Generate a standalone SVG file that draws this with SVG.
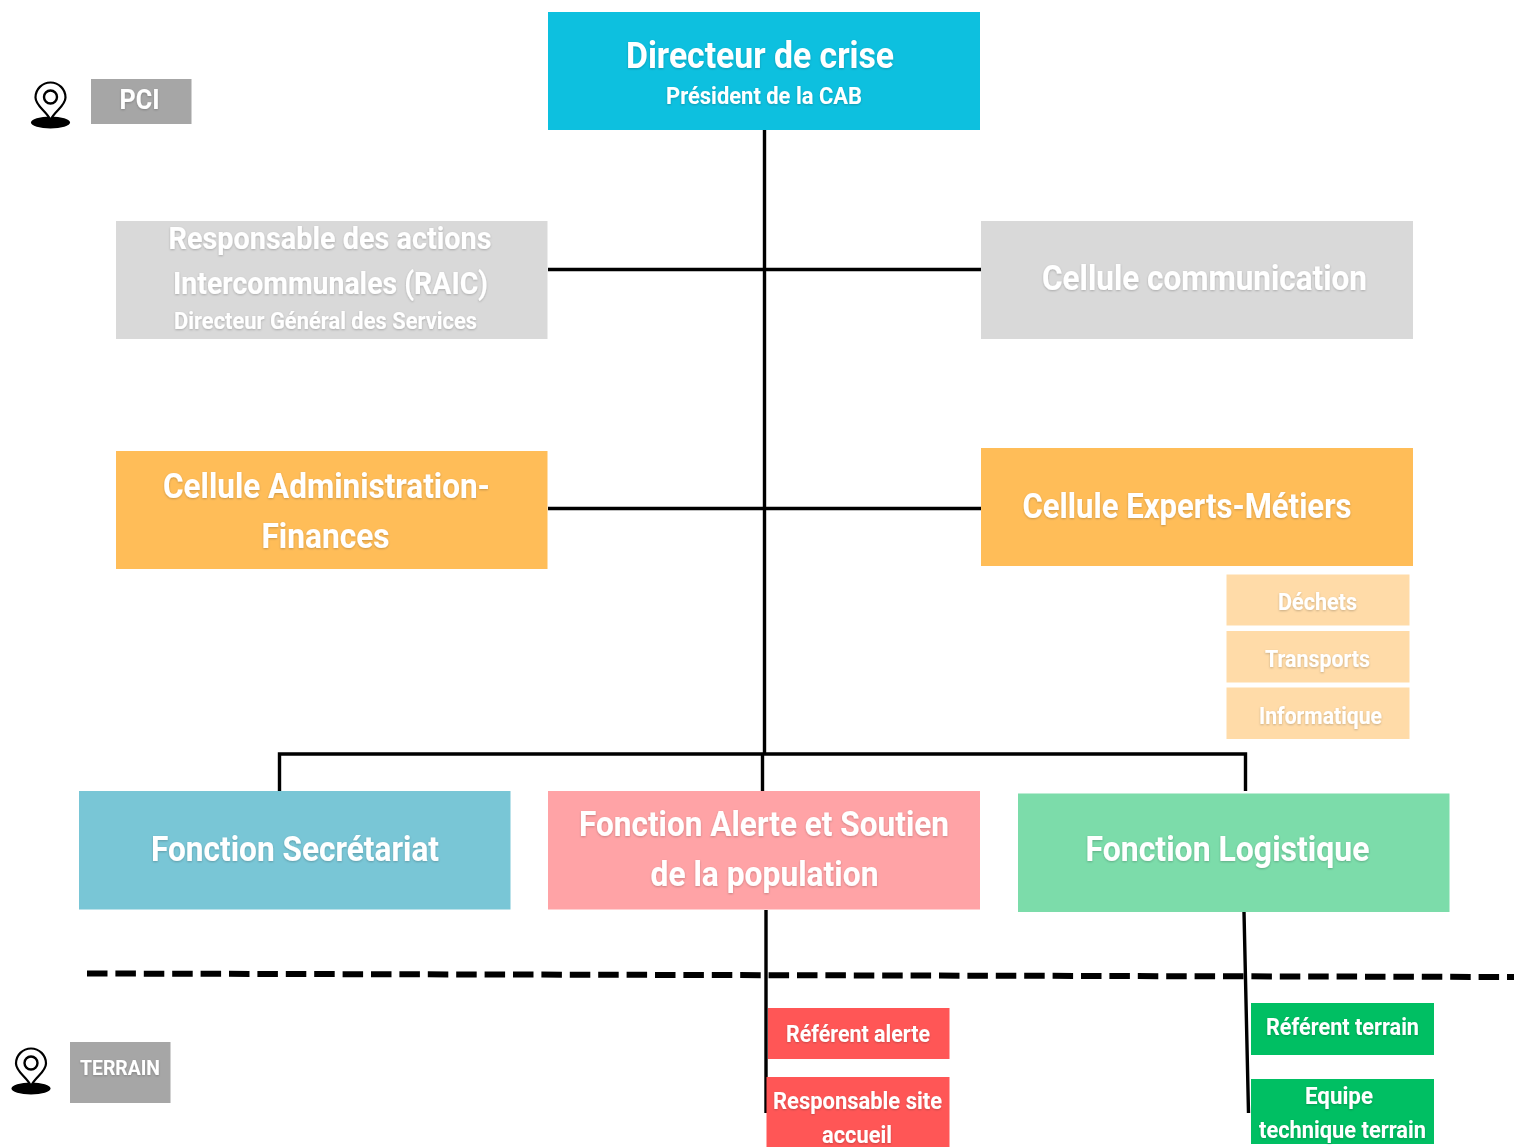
<svg xmlns="http://www.w3.org/2000/svg" width="1514" height="1147" viewBox="0 0 1514 1147">
<style>
text{font-family:Roboto,"Liberation Sans",sans-serif;font-weight:700;fill:#fff;filter:url(#ts)}
.c{fill:none;stroke:#000;stroke-width:3.4}
.t{fill:#0cc0df}.g{fill:#d9d9d9}.o{fill:#ffbd59}.p{fill:#ffdba8}.gr{fill:#a6a6a6}
.b{fill:#79c6d6}.k{fill:#ffa3a6}.m{fill:#7bdcaa}.r{fill:#ff5757}.e{fill:#00bf63}
</style>
<defs>
<filter id="ts" x="-5%" y="-20%" width="110%" height="140%"><feDropShadow dx="0" dy="1" stdDeviation="1" flood-color="#000" flood-opacity=".22"/></filter>
<filter id="soft" filterUnits="userSpaceOnUse" x="0" y="0" width="1514" height="1147"><feGaussianBlur stdDeviation=".55"/></filter>
<g id="pin">
<ellipse cx="0" cy="25.500" rx="19.500" ry="6" fill="#000"/>
<path d="M0 23C-4 14-15 9-15 0.500A15 15 0 0 1 15 0.500C15 9 4 14 0 23Z" fill="#fff" stroke="#000" stroke-width="2.200"/>
<circle cx="0" cy="0" r="6.500" fill="#fff" stroke="#000" stroke-width="2.400"/>
</g>
</defs>
<rect width="1514" height="1147" fill="#fff"/>
<g id="diagram" filter="url(#soft)">
<g id="connectors">
<path class="c" d="M764.500 130V754M548 269.500H981M548 508.500H981M279.500 791V754H1245.500V791M762.500 754V791"/>
<path class="c" d="M766 910V1113M1244 912L1248.500 1113"/>
<path d="M87 973.500L1514 977" fill="none" stroke="#000" stroke-width="6" stroke-dasharray="20.500 7.900"/>
</g>
<g id="pin-pci"><use href="#pin" x="50.500" y="97"/></g>
<g id="pin-terrain"><use href="#pin" x="31" y="1063"/></g>
<g id="pci"><rect class="gr" x="91" y="79" width="100.500" height="45"/><text x="119.500" y="109" font-size="27" textLength="40" lengthAdjust="spacingAndGlyphs">PCI</text></g>
<g id="terrain"><rect class="gr" x="70" y="1042" width="100.500" height="61"/><text x="80" y="1075" font-size="21" textLength="80" lengthAdjust="spacingAndGlyphs">TERRAIN</text></g>
<g id="directeur"><rect class="t" x="548" y="12" width="432" height="118"/>
<text x="626" y="68" font-size="36" textLength="268" lengthAdjust="spacingAndGlyphs">Directeur de crise</text>
<text x="666" y="104" font-size="24" textLength="196" lengthAdjust="spacingAndGlyphs">Président de la CAB</text></g>
<g id="raic"><rect class="g" x="116" y="221" width="431.500" height="118"/>
<text x="168.500" y="248.500" font-size="32" textLength="323" lengthAdjust="spacingAndGlyphs">Responsable des actions</text>
<text x="173" y="293.500" font-size="32" textLength="315" lengthAdjust="spacingAndGlyphs">Intercommunales (RAIC)</text>
<text x="174" y="328.500" font-size="23" textLength="303" lengthAdjust="spacingAndGlyphs">Directeur Général des Services</text></g>
<g id="communication"><rect class="g" x="981" y="221" width="432" height="118"/>
<text x="1042" y="289.500" font-size="35" textLength="325" lengthAdjust="spacingAndGlyphs">Cellule communication</text></g>
<g id="admin"><rect class="o" x="116" y="451" width="431.500" height="118"/>
<text x="163" y="498" font-size="35" textLength="327" lengthAdjust="spacingAndGlyphs">Cellule Administration-</text>
<text x="261.500" y="548" font-size="35" textLength="128" lengthAdjust="spacingAndGlyphs">Finances</text></g>
<g id="experts"><rect class="o" x="981" y="448" width="432" height="118"/>
<text x="1022.500" y="518" font-size="35" textLength="329" lengthAdjust="spacingAndGlyphs">Cellule Experts-Métiers</text></g>
<g id="dechets"><rect class="p" x="1226.500" y="574.500" width="183" height="51"/>
<text x="1278" y="610" font-size="24" textLength="79" lengthAdjust="spacingAndGlyphs">Déchets</text></g>
<g id="transports"><rect class="p" x="1226.500" y="631" width="183" height="51.500"/>
<text x="1265" y="667" font-size="24" textLength="105" lengthAdjust="spacingAndGlyphs">Transports</text></g>
<g id="informatique"><rect class="p" x="1226.500" y="687.500" width="183" height="51.500"/>
<text x="1259" y="723.500" font-size="24" textLength="123" lengthAdjust="spacingAndGlyphs">Informatique</text></g>
<g id="secretariat"><rect class="b" x="79" y="791" width="431.500" height="118.500"/>
<text x="151" y="861" font-size="35" textLength="288" lengthAdjust="spacingAndGlyphs">Fonction Secrétariat</text></g>
<g id="alerte"><rect class="k" x="548" y="791" width="432" height="118.500"/>
<text x="579" y="836" font-size="35" textLength="370" lengthAdjust="spacingAndGlyphs">Fonction Alerte et Soutien</text>
<text x="650.500" y="886" font-size="35" textLength="228" lengthAdjust="spacingAndGlyphs">de la population</text></g>
<g id="logistique"><rect class="m" x="1018" y="793.500" width="431.500" height="118.500"/>
<text x="1085.500" y="861" font-size="35" textLength="284" lengthAdjust="spacingAndGlyphs">Fonction Logistique</text></g>
<g id="referent-alerte"><rect class="r" x="768" y="1008" width="181.500" height="51"/>
<text x="786" y="1042" font-size="24" textLength="144" lengthAdjust="spacingAndGlyphs">Référent alerte</text></g>
<g id="responsable-site"><rect class="r" x="766.500" y="1077" width="183" height="70"/>
<text x="773" y="1109" font-size="24" textLength="169" lengthAdjust="spacingAndGlyphs">Responsable site</text>
<text x="822" y="1143" font-size="24" textLength="70" lengthAdjust="spacingAndGlyphs">accueil</text></g>
<g id="referent-terrain"><rect class="e" x="1251" y="1003" width="183" height="52"/>
<text x="1266" y="1035" font-size="24" textLength="153" lengthAdjust="spacingAndGlyphs">Référent terrain</text></g>
<g id="equipe"><rect class="e" x="1251" y="1079" width="183" height="65"/>
<text x="1305" y="1104" font-size="24" textLength="68" lengthAdjust="spacingAndGlyphs">Equipe</text>
<text x="1259" y="1138" font-size="24" textLength="167" lengthAdjust="spacingAndGlyphs">technique terrain</text></g>
</g>
</svg>
